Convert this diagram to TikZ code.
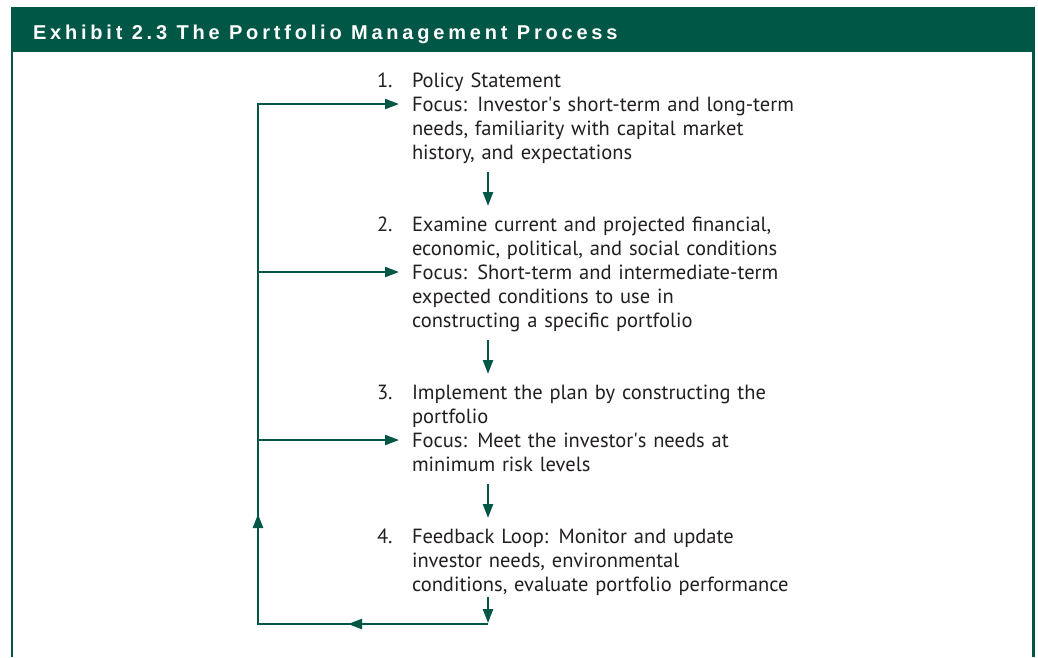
\documentclass[tikz,border=0pt]{standalone}
\usepackage{fontspec}
\setmainfont{PT Sans}
\newfontfamily\headfont[LetterSpace=19]{Liberation Sans}
\usetikzlibrary{arrows.meta,decorations.markings,calc}
\definecolor{egreen}{RGB}{0,87,70}
\definecolor{tgray}{RGB}{35,31,32}
\newcommand{\sq}{\XeTeXglyph\XeTeXcharglyph"27\relax}
\begin{document}
\begin{tikzpicture}[x=1pt,y=-1pt,
  every node/.style={inner sep=0pt,outer sep=0pt},
  itemtext/.style={anchor=base west,text width=460pt,align=left,
    font=\fontsize{20.5}{24}\selectfont,text=tgray},
  numtext/.style={anchor=base west,font=\fontsize{20.5}{24}\selectfont,text=tgray},
  conn/.style={draw=egreen,line width=2.3pt,-{Triangle[length=14pt,width=10pt]}},
  loopline/.style={draw=egreen,line width=2.3pt,-{Triangle[length=14pt,width=10pt]},
    postaction={decorate},
    decoration={markings,
      mark=at position 140pt with {\arrow{Triangle[length=14pt,width=10pt]}},
      mark=at position 340pt with {\arrow{Triangle[length=14pt,width=10pt]}}}},
  border/.style={draw=egreen,line width=2.2pt}
]
\useasboundingbox (0,0) rectangle (1038,657);
\fill[white] (0,0) rectangle (1038,657);
% header
\fill[egreen] (11,7) rectangle (1035,52);
\node[anchor=base west,text=white,font=\headfont\bfseries\fontsize{20}{24}\selectfont] (title) at (33,39.5)
  {Exhibit 2.3 The Portfolio Management Process};
\draw[border] (12,52) -- (12,657);
\draw[border] (1033.5,52) -- (1033.5,657);
% items
\node[numtext] (n1) at (377,87) {1.};
\node[itemtext] (t1) at (412,87) {Policy Statement\\Focus: Investor\sq s short-term and long-term\\needs, familiarity with capital market\\history, and expectations};
\node[numtext] (n2) at (377,231) {2.};
\node[itemtext] (t2) at (412,231) {Examine current and projected financial,\\economic, political, and social conditions\\Focus: Short-term and intermediate-term\\expected conditions to use in\\constructing a specific portfolio};
\node[numtext] (n3) at (377,399) {3.};
\node[itemtext] (t3) at (412,399) {Implement the plan by constructing the\\portfolio\\Focus: Meet the investor\sq s needs at\\minimum risk levels};
\node[numtext] (n4) at (377,543) {4.};
\node[itemtext] (t4) at (412,543) {Feedback Loop: Monitor and update\\investor needs, environmental\\conditions, evaluate portfolio performance};
% guide coordinates
\coordinate (colx) at (488,0);
\coordinate (loopx) at (258,0);
\coordinate (tipx) at (399,0);
% downward arrows
\draw[conn] ($(t1.base -| colx)+(0,85)$) -- ($(t2.base -| colx)+(0,-25)$);
\draw[conn] ($(t2.base -| colx)+(0,109)$) -- ($(t3.base -| colx)+(0,-25)$);
\draw[conn] ($(t3.base -| colx)+(0,85)$) -- ($(t4.base -| colx)+(0,-25)$);
\draw[conn] ($(t4.base -| colx)+(0,54)$) -- ($(t4.base -| colx)+(0,80)$);
% feedback loop
\coordinate (lbr) at ($(t4.base -| colx)+(0,81)$);
\coordinate (lbl) at (lbr -| loopx);
\coordinate (f1) at ($(t1.base -| tipx)+(0,17)$);
\coordinate (f2) at ($(t2.base -| tipx)+(0,41)$);
\coordinate (f3) at ($(t3.base -| tipx)+(0,41)$);
\draw[loopline] (lbr) -- (lbl) -- (lbl |- f1) -- (f1);
\draw[conn] (lbl |- f2) -- (f2);
\draw[conn] (lbl |- f3) -- (f3);
\end{tikzpicture}
\end{document}
